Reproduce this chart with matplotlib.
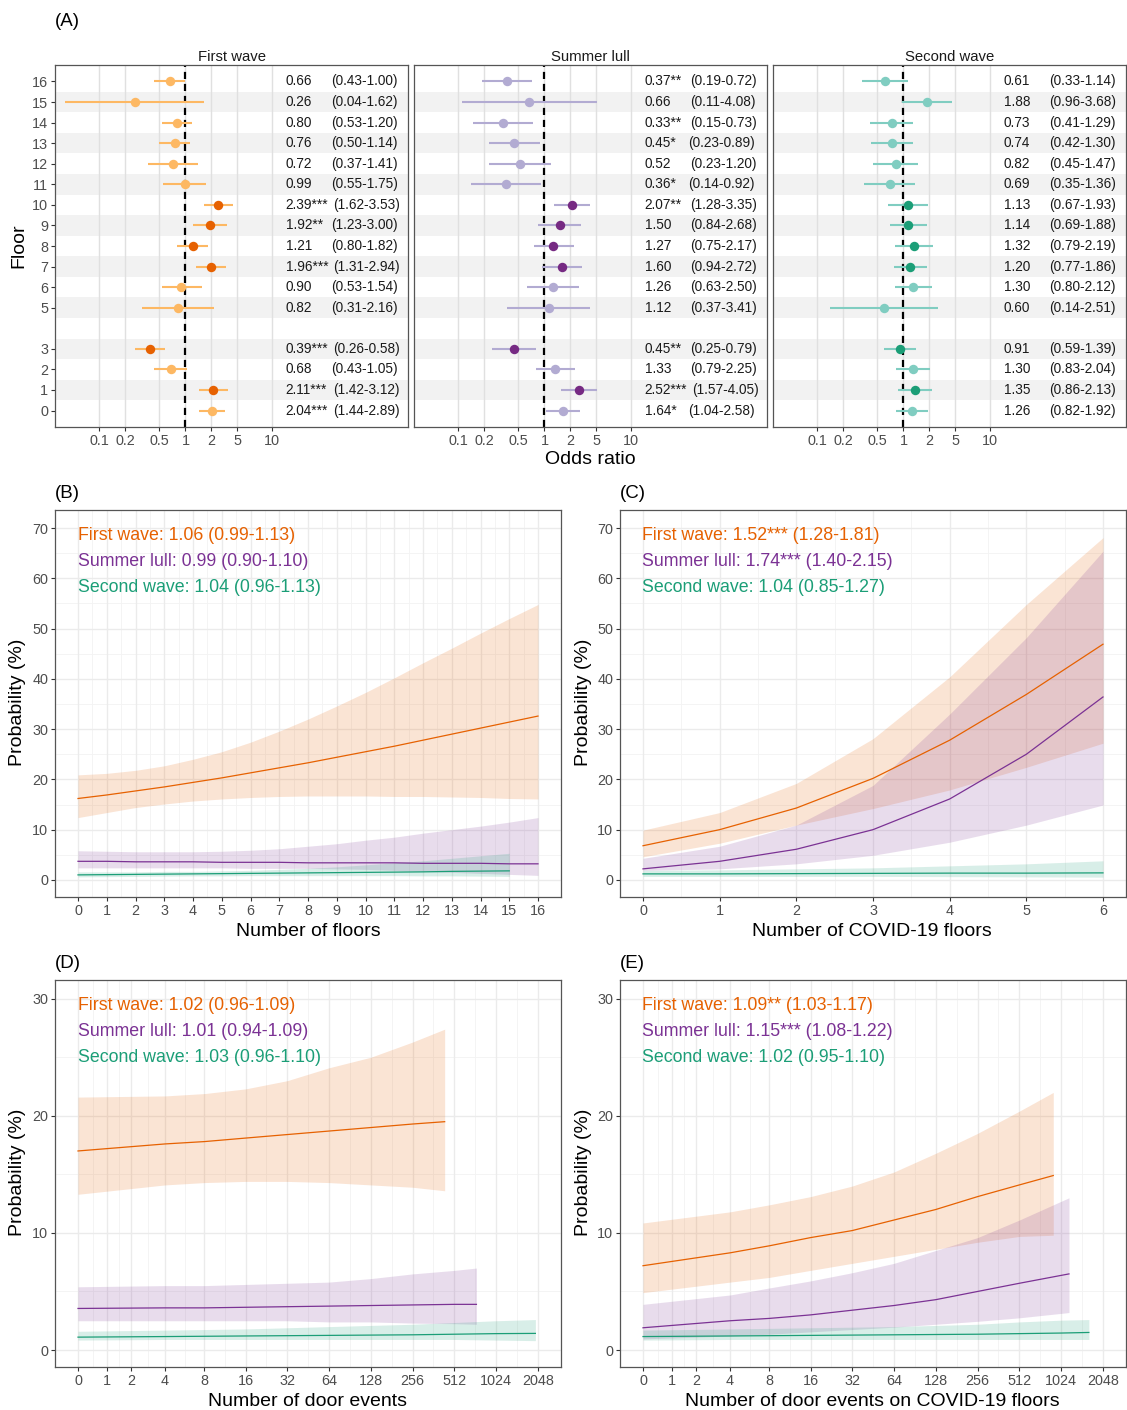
import numpy as np
import matplotlib.pyplot as plt
from matplotlib.transforms import blended_transform_factory

plt.rcParams['font.family'] = ['Liberation Sans', 'DejaVu Sans']

W, H = 1127, 1410

# ---------------- (A) odds ratios per floor ----------------
floors = [16, 15, 14, 13, 12, 11, 10, 9, 8, 7, 6, 5, 3, 2, 1, 0]
covid_floors = [10, 9, 8, 7, 3, 1]

fw_or = [0.66, 0.26, 0.80, 0.76, 0.72, 0.99, 2.39, 1.92, 1.21, 1.96, 0.90, 0.82, 0.39, 0.68, 2.11, 2.04]
fw_lo = [0.43, 0.04, 0.53, 0.50, 0.37, 0.55, 1.62, 1.23, 0.80, 1.31, 0.53, 0.31, 0.26, 0.43, 1.42, 1.44]
fw_hi = [1.00, 1.62, 1.20, 1.14, 1.41, 1.75, 3.53, 3.00, 1.82, 2.94, 1.54, 2.16, 0.58, 1.05, 3.12, 2.89]
fw_sig = ['', '', '', '', '', '', '***', '**', '', '***', '', '', '***', '', '***', '***']

sl_or = [0.37, 0.66, 0.33, 0.45, 0.52, 0.36, 2.07, 1.50, 1.27, 1.60, 1.26, 1.12, 0.45, 1.33, 2.52, 1.64]
sl_lo = [0.19, 0.11, 0.15, 0.23, 0.23, 0.14, 1.28, 0.84, 0.75, 0.94, 0.63, 0.37, 0.25, 0.79, 1.57, 1.04]
sl_hi = [0.72, 4.08, 0.73, 0.89, 1.20, 0.92, 3.35, 2.68, 2.17, 2.72, 2.50, 3.41, 0.79, 2.25, 4.05, 2.58]
sl_sig = ['**', '', '**', '*', '', '*', '**', '', '', '', '', '', '**', '', '***', '*']

sw_or = [0.61, 1.88, 0.73, 0.74, 0.82, 0.69, 1.13, 1.14, 1.32, 1.20, 1.30, 0.60, 0.91, 1.30, 1.35, 1.26]
sw_lo = [0.33, 0.96, 0.41, 0.42, 0.45, 0.35, 0.67, 0.69, 0.79, 0.77, 0.80, 0.14, 0.59, 0.83, 0.86, 0.82]
sw_hi = [1.14, 3.68, 1.29, 1.30, 1.47, 1.36, 1.93, 1.88, 2.19, 1.86, 2.12, 2.51, 1.39, 2.04, 2.13, 1.92]
sw_sig = [''] * 16

or_ticks = [0.1, 0.2, 0.5, 1, 2, 4, 10]
or_labels = ['0.1', '0.2', '0.5', '1', '2', '5', '10']

# ---------------- (B) number of floors ----------------
b_x = list(range(17))
b_fw_fit = [16.2, 16.9, 17.7, 18.5, 19.4, 20.3, 21.3, 22.3, 23.3, 24.4, 25.5, 26.6, 27.8, 29.0, 30.2, 31.4, 32.6]
b_fw_lo = [12.4, 13.4, 14.4, 15.1, 15.7, 16.1, 16.4, 16.6, 16.7, 16.7, 16.7, 16.6, 16.6, 16.5, 16.4, 16.2, 16.1]
b_fw_hi = [20.9, 21.2, 21.8, 22.7, 24.0, 25.5, 27.4, 29.6, 32.0, 34.6, 37.3, 40.2, 43.2, 46.1, 49.1, 52.0, 54.8]
b_sl_fit = [3.7, 3.7, 3.6, 3.6, 3.6, 3.5, 3.5, 3.5, 3.4, 3.4, 3.4, 3.4, 3.3, 3.3, 3.3, 3.2, 3.2]
b_sl_lo = [2.4, 2.4, 2.4, 2.4, 2.4, 2.4, 2.3, 2.3, 2.3, 2.2, 2.1, 1.9, 1.7, 1.5, 1.3, 1.1, 0.9]
b_sl_hi = [5.8, 5.7, 5.6, 5.6, 5.6, 5.7, 5.9, 6.2, 6.7, 7.2, 7.9, 8.5, 9.3, 10.0, 10.7, 11.5, 12.4]
b_sw_x = list(range(16))
b_sw_fit = [1.0, 1.05, 1.1, 1.15, 1.2, 1.25, 1.3, 1.35, 1.4, 1.45, 1.5, 1.55, 1.6, 1.7, 1.75, 1.8]
b_sw_lo = [0.6, 0.65, 0.7, 0.75, 0.8, 0.8, 0.85, 0.85, 0.85, 0.85, 0.85, 0.85, 0.8, 0.8, 0.75, 0.7]
b_sw_hi = [1.6, 1.6, 1.6, 1.7, 1.7, 1.8, 1.9, 2.1, 2.3, 2.6, 3.0, 3.4, 3.8, 4.3, 4.8, 5.3]

# ---------------- (C) number of COVID-19 floors ----------------
c_x = list(range(7))
c_fw_fit = [6.8, 10.0, 14.3, 20.2, 27.8, 36.9, 46.9]
c_fw_lo = [4.6, 7.3, 10.9, 14.2, 17.9, 22.4, 27.2]
c_fw_hi = [9.9, 13.4, 19.2, 28.1, 40.4, 54.8, 68.1]
c_sl_fit = [2.2, 3.7, 6.1, 10.0, 16.1, 25.0, 36.4]
c_sl_lo = [1.9, 2.2, 3.2, 4.9, 7.5, 10.9, 14.9]
c_sl_hi = [4.3, 6.7, 10.9, 18.8, 33.0, 48.2, 65.4]
c_sw_fit = [1.2, 1.2, 1.25, 1.3, 1.35, 1.35, 1.4]
c_sw_lo = [0.7, 0.7, 0.7, 0.7, 0.65, 0.6, 0.55]
c_sw_hi = [1.9, 2.0, 2.2, 2.4, 2.8, 3.2, 3.8]

# ---------------- (D) number of door events ----------------
d_fw_x = [0, 4, 8, 16, 32, 64, 128, 256, 436]
d_fw_fit = [17.0, 17.6, 17.8, 18.1, 18.4, 18.7, 19.0, 19.3, 19.5]
d_fw_lo = [13.3, 14.1, 14.3, 14.4, 14.4, 14.3, 14.1, 13.9, 13.6]
d_fw_hi = [21.6, 21.7, 21.9, 22.3, 23.0, 24.1, 25.0, 26.3, 27.4]
d_sl_x = [0, 4, 8, 16, 32, 64, 128, 256, 512, 738]
d_sl_fit = [3.55, 3.6, 3.6, 3.65, 3.7, 3.75, 3.8, 3.85, 3.9, 3.9]
d_sl_lo = [2.5, 2.5, 2.5, 2.5, 2.5, 2.4, 2.4, 2.3, 2.25, 2.2]
d_sl_hi = [5.4, 5.5, 5.5, 5.6, 5.7, 5.8, 6.1, 6.5, 6.8, 7.0]
d_sw_x = [0, 4, 16, 64, 256, 512, 1024, 1961]
d_sw_fit = [1.1, 1.15, 1.2, 1.25, 1.3, 1.35, 1.4, 1.42]
d_sw_lo = [0.85, 0.9, 0.9, 0.9, 0.9, 0.9, 0.85, 0.8]
d_sw_hi = [1.6, 1.7, 1.8, 2.0, 2.2, 2.35, 2.5, 2.6]

# ---------------- (E) door events on COVID-19 floors ----------------
e_fw_x = [0, 4, 8, 16, 32, 64, 128, 256, 512, 898]
e_fw_fit = [7.2, 8.3, 8.9, 9.6, 10.2, 11.1, 12.0, 13.1, 14.1, 14.9]
e_fw_lo = [4.9, 5.8, 6.2, 6.8, 7.4, 8.0, 8.6, 9.2, 9.7, 9.8]
e_fw_hi = [10.85, 11.8, 12.4, 13.1, 14.0, 15.2, 16.8, 18.5, 20.4, 22.0]
e_sl_x = [0, 4, 8, 16, 32, 64, 128, 256, 512, 1165]
e_sl_fit = [1.9, 2.5, 2.7, 3.0, 3.4, 3.8, 4.3, 5.0, 5.7, 6.5]
e_sl_lo = [0.95, 1.2, 1.35, 1.55, 1.75, 1.95, 2.2, 2.45, 2.75, 3.2]
e_sl_hi = [3.9, 4.7, 5.3, 5.9, 6.6, 7.4, 8.5, 9.6, 11.1, 13.0]
e_sw_x = [0, 4, 16, 64, 256, 512, 1024, 1620]
e_sw_fit = [1.15, 1.2, 1.25, 1.3, 1.35, 1.4, 1.45, 1.5]
e_sw_lo = [0.85, 0.9, 0.9, 0.9, 0.9, 0.9, 0.9, 0.9]
e_sw_hi = [1.7, 1.8, 1.9, 2.0, 2.2, 2.4, 2.55, 2.6]

door_ticks = [0, 1, 2, 4, 8, 16, 32, 64, 128, 256, 512, 1024, 2048]

labels_b = ['First wave: 1.06 (0.99-1.13)', 'Summer lull: 0.99 (0.90-1.10)', 'Second wave: 1.04 (0.96-1.13)']
labels_c = ['First wave: 1.52*** (1.28-1.81)', 'Summer lull: 1.74*** (1.40-2.15)', 'Second wave: 1.04 (0.85-1.27)']
labels_d = ['First wave: 1.02 (0.96-1.09)', 'Summer lull: 1.01 (0.94-1.09)', 'Second wave: 1.03 (0.96-1.10)']
labels_e = ['First wave: 1.09** (1.03-1.17)', 'Summer lull: 1.15*** (1.08-1.22)', 'Second wave: 1.02 (0.95-1.10)']

# colours
ORANGE, PURPLE, GREEN = '#E66101', '#7B3294', '#1B9E77'
LIGHT = ['#FDB863', '#B2ABD2', '#80CDC1']
DARK = ['#E66101', '#762A83', '#1B9E77']
GRID = '#EBEBEB'
TICKC = '#4D4D4D'
BORDER = '#555555'

fig = plt.figure(figsize=(W / 100, H / 100), dpi=100)


def box(x0, y0, x1, y1):
    return fig.add_axes([x0 / W, 1 - y1 / H, (x1 - x0) / W, (y1 - y0) / H])


def ftext(x, y, s, **kw):
    fig.text(x / W, 1 - y / H, s, **kw)


def style(ax):
    for sp in ax.spines.values():
        sp.set_color(BORDER)
        sp.set_linewidth(0.9)
    ax.tick_params(colors='#333333', labelcolor=TICKC, labelsize=10.4,
                   length=3, width=0.8, pad=2)
    ax.tick_params(which='minor', length=0)


# ---------------- panel A ----------------
def forest(ax, orr, lo, hi, sig, k, title, first):
    ax.set_xscale('log')
    ax.set_xlim(10 ** -1.51, 10 ** 2.576)
    ax.set_ylim(-0.8, 16.8)
    for f in floors:
        if f % 2 == 1:
            ax.axhspan(f - 0.5, f + 0.5, color='#F2F2F2', lw=0, zorder=0)
    for t in or_ticks:
        ax.axvline(t, color='#E0E0E0', lw=1.0, zorder=0.5)
    ax.axvline(1, color='black', ls=(0, (3.2, 2.2)), lw=1.6, zorder=2)
    tr = blended_transform_factory(ax.transAxes, ax.transData)
    for i, f in enumerate(floors):
        ax.plot([lo[i], hi[i]], [f, f], color=LIGHT[k], lw=1.5,
                solid_capstyle='butt', zorder=3)
        c = DARK[k] if f in covid_floors else LIGHT[k]
        ax.plot(orr[i], f, 'o', color=c, ms=6.8, mec='none', zorder=4)
        off = {'': 0, '*': -0.005, '**': 0, '***': 0.006}[sig[i]]
        ax.text(0.654, f, f'{orr[i]:.2f}{sig[i]}', transform=tr, va='center',
                fontsize=9.8, color='#1A1A1A')
        ax.text(0.782 + off, f, f'({lo[i]:.2f}-{hi[i]:.2f})', transform=tr,
                va='center', fontsize=9.8, color='#1A1A1A')
    ax.set_xticks(or_ticks)
    ax.set_xticklabels(or_labels)
    ax.xaxis.set_minor_locator(plt.NullLocator())
    if first:
        ax.set_yticks(floors)
        ax.set_yticklabels([str(f) for f in floors])
    else:
        ax.set_yticks([])
    style(ax)
    ax.set_title(title, fontsize=10.7, color='#1A1A1A', pad=3)


axA = [box(55, 65, 408, 427), box(414, 65, 767, 427), box(773, 65, 1126, 427)]
forest(axA[0], fw_or, fw_lo, fw_hi, fw_sig, 0, 'First wave', True)
forest(axA[1], sl_or, sl_lo, sl_hi, sl_sig, 1, 'Summer lull', False)
forest(axA[2], sw_or, sw_lo, sw_hi, sw_sig, 2, 'Second wave', False)

ftext(55, 22, '(A)', fontsize=13.5, va='center', ha='left')
ftext(19, 246, 'Floor', fontsize=14, rotation=90, va='center', ha='center')
ftext(590, 460, 'Odds ratio', fontsize=14, va='center', ha='center')


# ---------------- panels B-E ----------------
def fwd(x):
    return np.arcsinh(np.asarray(x, dtype=float) / 2) / np.log(2)


def inv(t):
    return 2 * np.sinh(np.asarray(t, dtype=float) * np.log(2))


def prob_panel(ax, series, xlim, ylim, yticks, xticks, xlabels=None, door=False):
    if door:
        ax.set_xscale('function', functions=(fwd, inv))
        ax.set_xlim(inv(-0.55), inv(11.55))
        tt = fwd(xticks)
        xminor = inv((tt[:-1] + tt[1:]) / 2)
    else:
        ax.set_xlim(*xlim)
        xt = np.array(xticks, dtype=float)
        xminor = (xt[:-1] + xt[1:]) / 2
    ax.set_ylim(*ylim)
    yt = np.array(yticks, dtype=float)
    yminor = (yt[:-1] + yt[1:]) / 2
    for v in xminor:
        ax.axvline(v, color='#F3F3F3', lw=0.6, zorder=0)
    for v in yminor:
        ax.axhline(v, color='#F3F3F3', lw=0.6, zorder=0)
    for v in xticks:
        ax.axvline(v, color=GRID, lw=1.0, zorder=0)
    for v in yticks:
        ax.axhline(v, color=GRID, lw=1.0, zorder=0)
    for x, fit, lo, hi, col in series:
        ax.fill_between(x, lo, hi, color=col, alpha=0.17, lw=0, zorder=1)
    for x, fit, lo, hi, col in series:
        ax.plot(x, fit, color=col, lw=0.9, zorder=2)
    ax.set_xticks(xticks)
    ax.set_xticklabels(xlabels if xlabels else [str(v) for v in xticks])
    ax.set_yticks(yticks)
    ax.xaxis.set_minor_locator(plt.NullLocator())
    ax.yaxis.set_minor_locator(plt.NullLocator())
    style(ax)


def annot(x, y, labels):
    for j, (s, c) in enumerate(zip(labels, [ORANGE, PURPLE, GREEN])):
        ftext(x, y + 25.5 * j, s, fontsize=12.8, color=c, va='center', ha='left')


axB = box(55, 510, 561, 897)
prob_panel(axB, [(b_x, b_fw_fit, b_fw_lo, b_fw_hi, ORANGE),
                 (b_x, b_sl_fit, b_sl_lo, b_sl_hi, PURPLE),
                 (b_sw_x, b_sw_fit, b_sw_lo, b_sw_hi, GREEN)],
           (-0.8, 16.8), (-3.4, 73.6), list(range(0, 71, 10)), list(range(17)))

axC = box(620, 510, 1126, 897)
prob_panel(axC, [(c_x, c_fw_fit, c_fw_lo, c_fw_hi, ORANGE),
                 (c_x, c_sl_fit, c_sl_lo, c_sl_hi, PURPLE),
                 (c_x, c_sw_fit, c_sw_lo, c_sw_hi, GREEN)],
           (-0.3, 6.3), (-3.4, 73.6), list(range(0, 71, 10)), list(range(7)))

axD = box(55, 980, 561, 1367)
prob_panel(axD, [(d_fw_x, d_fw_fit, d_fw_lo, d_fw_hi, ORANGE),
                 (d_sl_x, d_sl_fit, d_sl_lo, d_sl_hi, PURPLE),
                 (d_sw_x, d_sw_fit, d_sw_lo, d_sw_hi, GREEN)],
           None, (-1.45, 31.6), [0, 10, 20, 30], door_ticks, door=True)

axE = box(620, 980, 1126, 1367)
prob_panel(axE, [(e_fw_x, e_fw_fit, e_fw_lo, e_fw_hi, ORANGE),
                 (e_sl_x, e_sl_fit, e_sl_lo, e_sl_hi, PURPLE),
                 (e_sw_x, e_sw_fit, e_sw_lo, e_sw_hi, GREEN)],
           None, (-1.45, 31.6), [0, 10, 20, 30], door_ticks, door=True)

annot(78, 536, labels_b)
annot(642, 536, labels_c)
annot(78, 1006, labels_d)
annot(642, 1006, labels_e)

ftext(55, 494, '(B)', fontsize=13.5, va='center')
ftext(620, 494, '(C)', fontsize=13.5, va='center')
ftext(55, 964, '(D)', fontsize=13.5, va='center')
ftext(620, 964, '(E)', fontsize=13.5, va='center')

for x, y in [(18, 702), (584, 702), (18, 1172), (584, 1172)]:
    ftext(x, y, 'Probability (%)', fontsize=14, rotation=90, va='center', ha='center')

ftext(308, 931, 'Number of floors', fontsize=14, va='center', ha='center')
ftext(872, 931, 'Number of COVID-19 floors', fontsize=14, va='center', ha='center')
ftext(308, 1401, 'Number of door events', fontsize=14, va='center', ha='center')
ftext(872, 1401, 'Number of door events on COVID-19 floors', fontsize=14, va='center', ha='center')

fig.savefig('out.png', dpi=100)
